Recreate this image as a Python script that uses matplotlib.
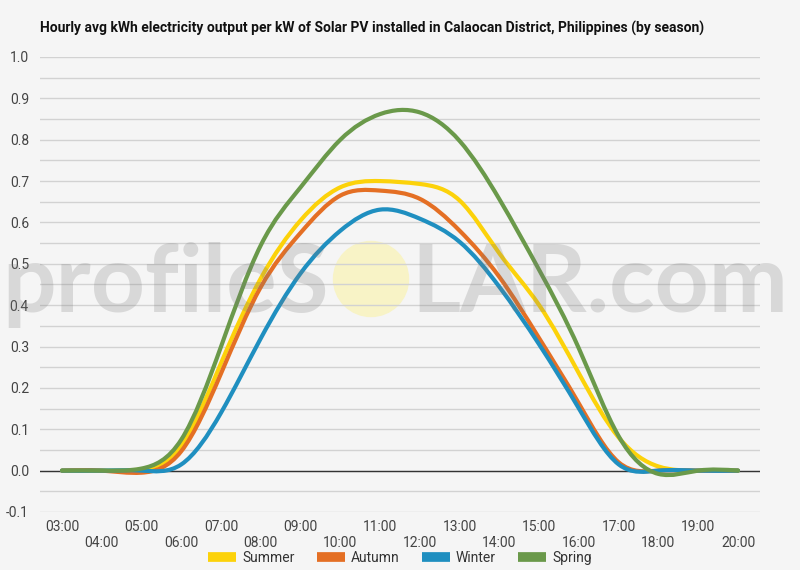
import numpy as np
import matplotlib
matplotlib.use("Agg")
import matplotlib.pyplot as plt
from matplotlib.path import Path
from matplotlib.patches import PathPatch, Ellipse
from matplotlib.lines import Line2D

plt.rcParams['font.family'] = ['Roboto', 'DejaVu Sans']

# data: hourly average kWh per kW installed
hours = list(range(3, 21))
hour_labels = ["%02d:00" % h for h in hours]
summer = [0, 0, 0.003, 0.06, 0.26, 0.465, 0.605, 0.685, 0.70, 0.693, 0.653, 0.525, 0.40, 0.235, 0.08, 0.01, 0, 0]
autumn = [0, 0, -0.005, 0.047, 0.235, 0.444, 0.575, 0.665, 0.677, 0.657, 0.58, 0.468, 0.32, 0.162, 0.02, 0, 0, 0]
winter = [0, 0, 0, 0.015, 0.14, 0.32, 0.477, 0.58, 0.631, 0.609, 0.553, 0.444, 0.305, 0.15, 0.015, 0, 0, 0]
spring = [0, 0, 0.005, 0.075, 0.30, 0.545, 0.685, 0.80, 0.862, 0.866, 0.797, 0.656, 0.485, 0.295, 0.083, -0.008, 0, 0]

series = [("Summer", summer, "#fcd20a"),
          ("Autumn", autumn, "#e46f24"),
          ("Winter", winter, "#1f8fc0"),
          ("Spring", spring, "#6a994a")]

BG = "#f5f5f5"


def smooth_path(xs, ys):
    # natural cubic spline through the points, drawn as bezier segments
    xs = np.asarray(xs, float)
    ys = np.asarray(ys, float)
    n = len(xs)
    A = np.zeros((n, n))
    b = np.zeros(n)
    A[0, 0] = A[-1, -1] = 1
    for i in range(1, n - 1):
        A[i, i - 1], A[i, i], A[i, i + 1] = 1, 4, 1
        b[i] = 6 * (ys[i + 1] - 2 * ys[i] + ys[i - 1])
    M = np.linalg.solve(A, b)
    d = np.zeros(n)
    for i in range(n - 1):
        d[i] = (ys[i + 1] - ys[i]) - (2 * M[i] + M[i + 1]) / 6
    d[-1] = (ys[-1] - ys[-2]) + (M[-2] + 2 * M[-1]) / 6
    verts = [(xs[0], ys[0])]
    codes = [Path.MOVETO]
    for i in range(n - 1):
        h = xs[i + 1] - xs[i]
        verts += [(xs[i] + h / 3, ys[i] + d[i] * h / 3),
                  (xs[i + 1] - h / 3, ys[i + 1] - d[i + 1] * h / 3),
                  (xs[i + 1], ys[i + 1])]
        codes += [Path.CURVE4] * 3
    return Path(verts, codes)


fig = plt.figure(figsize=(8, 5.7), dpi=100, facecolor=BG)
ax = fig.add_axes([0.05, 0.1018, 0.90, 0.7982])
ax.set_facecolor("none")

# watermark sun (behind the lines)
fig.add_artist(Ellipse((371 / 800, 1 - 279 / 570), 75 / 800, 75 / 570,
                       transform=fig.transFigure, color="#f8f3c6", zorder=-1))

for name, vals, col in series:
    ax.add_patch(PathPatch(smooth_path(hours, vals), fill=False, edgecolor=col,
                           lw=3.0, capstyle="round", joinstyle="round", zorder=3))

ax.set_xlim(2.447, 20.553)
ax.set_ylim(-0.1, 1.0)
ax.set_yticks(np.arange(-0.1, 1.001, 0.1))
ax.set_yticklabels(["%.1f" % v for v in np.arange(-0.1, 1.001, 0.1)])
ax.set_yticks(np.arange(-0.05, 1.0, 0.1), minor=True)
ax.grid(True, axis="y", which="both", color="#d2d2d2", lw=1, zorder=1)
ax.axhline(0, color="#333333", lw=1, zorder=2)

ax.set_xticks(hours)
ax.set_xticklabels([lab if i % 2 == 0 else "\n" + lab for i, lab in enumerate(hour_labels)],
                   linespacing=1.15)
ax.tick_params(axis="both", which="both", length=0, labelsize=10, labelcolor="#444444")
ax.tick_params(axis="x", pad=6)
ax.tick_params(axis="y", pad=8)
for s in ax.spines.values():
    s.set_visible(False)

fig.text(0.05, 1 - 28 / 570,
         "Hourly avg kWh electricity output per kW of Solar PV installed in Calaocan District, Philippines (by season)",
         fontsize=10.0, fontweight="bold", va="center", ha="left", color="#111111")

# watermark text
wm = dict(fontsize=68, fontweight="bold", color="#7a7a7a", alpha=0.23, va="baseline",
          zorder=5, family="Lato")
fig.text(329 / 800, 1 - 312 / 570, "profileS", ha="right", **wm)
fig.text(411 / 800, 1 - 312 / 570, "LAR.com", ha="left", **wm)

handles = [Line2D([], [], color=c, lw=7, solid_capstyle="butt") for _, _, c in series]
fig.legend(handles, [n for n, _, _ in series], loc="center", bbox_to_anchor=(0.5, 1 - 558 / 570),
           ncol=4, frameon=False, fontsize=10, handlelength=2.0, handletextpad=0.45,
           columnspacing=1.6, labelcolor="#333333")

fig.savefig("out.png", dpi=100, facecolor=BG)
